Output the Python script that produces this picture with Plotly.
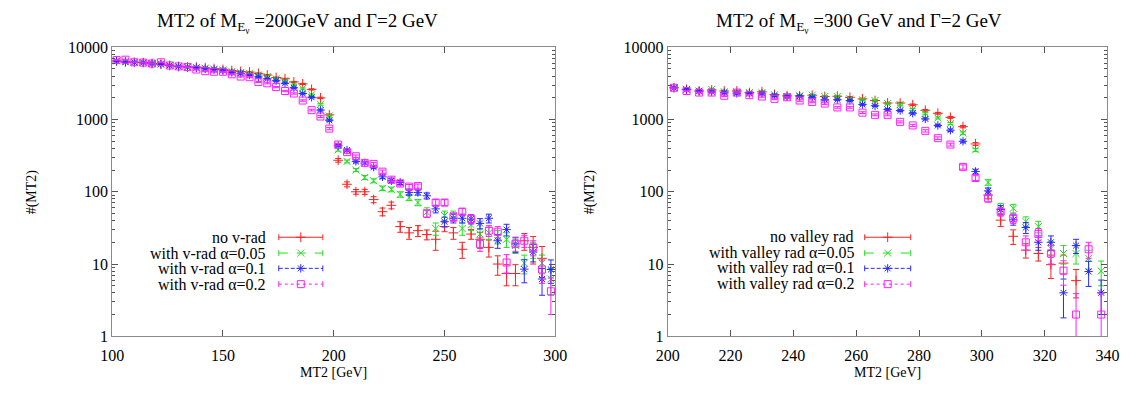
import plotly.graph_objects as go

W, H = 1141, 397

# ---------------- data: left panel (M_E = 200 GeV) ----------------
x_left = [102, 106, 110, 114, 118, 122, 126, 130, 134, 138, 142, 146, 150, 154, 158, 162, 166, 170, 174, 178,
          182, 186, 190, 194, 198, 202, 206, 210, 214, 218, 222, 226, 230, 234, 238, 242, 246, 250, 254, 258,
          262, 266, 270, 274, 278, 282, 286, 290, 294, 298]

L_red = [6460, 6330, 6200, 6130, 5950, 5830, 5600, 5430, 5320, 5320, 5210, 5060, 4920, 4760, 4620, 4530, 4350, 4130, 3810, 3660,
         3310, 3110, 2610, 1990, 1160, 273, 127, 100, 100, 78, 53, 65, 33, 27, 29, 25.6, 22, 33, 27, 16,
         26, 22, 17, 10, 7.4, 7.4, 21, 17, 12, None]
L_red_err = [80, 80, 79, 78, 77, 76, 75, 74, 73, 73, 72, 71, 70, 69, 68, 67, 66, 64, 62, 60,
             58, 56, 51, 45, 34, 16, 10, 7.5, 8, 7.5, 6.5, 7, 5.5, 5, 5, 4, 6.5, 5, 5, 4,
             4, 5.5, 4.5, 3, 2.4, 2.4, 5.5, 7, 5.5, 0]

L_green = [6460, 6330, 6200, 6130, 5950, 5830, 5600, 5430, 5320, 5210, 5140, 4980, 4870, 4620, 4480, 4350, 4130, 3930, 3660, 3440,
           3040, 2690, 2200, 1620, 1120, 380, 263, 200, 158, 142, 112, 108, 92, 83, 71, 52, 31, 47, 47, 31,
           35, 26, 27, 24, 22, 18, 10.3, 16, 10.3, 6.2]
L_green_err = [80, 80, 79, 78, 77, 76, 75, 74, 73, 72, 72, 71, 70, 68, 67, 66, 64, 63, 60, 59,
               55, 52, 47, 40, 33, 15, 12, 10, 10, 9, 8, 8, 8, 7, 7, 8, 6, 7, 7, 6,
               6, 5, 5, 5, 5, 4, 3, 4, 3, 2.5]

L_blue = [6460, 6200, 6200, 6130, 5950, 5830, 5600, 5430, 5320, 5210, 5060, 4920, 4770, 4480, 4350, 4130, 3890, 3660, 3440, 3170,
          2750, 2290, 2030, 1350, 975, 437, 378, 263, 251, 220, 161, 142, 135, 98, 98, 88, 58, 38.5, 43, 43,
          42, 36.5, 43, 21, 30, 19, 8.5, 14.7, 6.2, 8.4]
L_blue_err = [80, 79, 79, 78, 77, 76, 75, 74, 73, 72, 71, 70, 69, 67, 66, 64, 62, 60, 59, 56,
              52, 48, 45, 37, 31, 15, 14, 12, 12, 11, 9, 9, 9, 8, 8, 8.5, 7, 6, 6, 6,
              6, 6, 6, 4.5, 5.5, 4.5, 3, 4, 2.5, 3]

L_magenta = [6670, 6730, 6200, 6130, 5950, 6200, 5600, 5430, 5320, 4920, 4660, 4580, 4580, 4220, 3930, 3850, 3310, 3170, 2810, 2480,
             2290, 1830, 1350, 1100, 748, 450, 354, 310, 251, 243, 190, 147, 130, 118, 120, 50, 71, 71, 45, 53,
             42, 19, 29, 28, 10.5, 19, 21, 17, 8.4, 4.2]
L_magenta_err = [82, 82, 79, 78, 77, 79, 75, 74, 73, 70, 68, 68, 68, 65, 63, 62, 58, 56, 53, 50,
                 48, 43, 37, 33, 27, 16, 14, 13, 12, 12, 10, 9, 9, 8, 8, 6, 7, 7, 6, 6,
                 6, 4, 5, 5, 3, 4, 4, 4, 3, 2.2]

# ---------------- data: right panel (M_E = 300 GeV) ----------------
x_right = [202, 206, 210, 214, 218, 222, 226, 230, 234, 238, 242, 246, 250, 254, 258, 262, 266, 270, 274, 278,
           282, 286, 290, 294, 298, 302, 306, 310, 314, 318, 322, 326, 330, 334, 338]

R_red = [2750, 2610, 2480, 2560, 2480, 2480, 2360, 2420, 2220, 2130, 2130, 2170, 2080, 2100, 2030, 1930, 1830, 1690, 1690, 1600,
         1340, 1220, 1070, 796, 459, 90, 40.5, 24.2, 15.6, 14, 9.8, 10.3, 5.9, None, None]
R_red_err = [52, 51, 50, 51, 50, 50, 49, 49, 47, 46, 46, 47, 46, 46, 45, 44, 43, 41, 41, 40,
             37, 35, 33, 28, 21, 10, 7.5, 5.5, 3.5, 3, 3.5, 3, 2.5, 0, 0]

R_green = [2750, 2610, 2480, 2610, 2420, 2420, 2360, 2360, 2200, 2080, 2130, 2170, 2080, 2080, 1930, 1880, 1830, 1660, 1610, 1380,
           1220, 1050, 880, 649, 379, 135, 61, 59, 39, 33, 16.3, 14, 14, 12, 8]
R_green_err = [52, 51, 50, 51, 49, 49, 49, 49, 47, 46, 46, 47, 46, 46, 44, 43, 43, 41, 40, 37,
               35, 32, 30, 25, 19, 12, 8, 8, 6, 6, 4, 4, 4, 3.5, 3]

R_blue = [2750, 2610, 2480, 2420, 2360, 2300, 2300, 2300, 2130, 2080, 2100, 2030, 1880, 1880, 1830, 1610, 1550, 1380, 1330, 1220,
          1020, 828, 711, 499, 191, 103, 57, 41, 32, 20, 20, 4, 18, 7.9, 4]
R_blue_err = [52, 51, 50, 49, 49, 48, 48, 48, 46, 46, 46, 45, 43, 43, 43, 40, 39, 37, 36, 35,
              32, 29, 27, 22, 14, 10, 7.5, 6.5, 5.5, 4.5, 4.5, 2.2, 4, 3, 2]

R_magenta = [2750, 2480, 2360, 2360, 2130, 2360, 2170, 2080, 1930, 2030, 1830, 1750, 1660, 1470, 1470, 1245, 1160, 1160, 927, 828,
             697, 552, 450, 221, 155, 81, 53, 43, 20, 26, 14, 8.1, 2, 16, 2]
R_magenta_err = [52, 50, 49, 49, 46, 49, 47, 46, 44, 45, 43, 42, 41, 38, 38, 35, 34, 34, 30, 29,
                 26, 23, 21, 15, 12, 9, 7, 6.5, 4.5, 5, 4, 3, 1.9, 4, 1.9]

left_labels = ["no v-rad", "with v-rad \u03b1=0.05", "with v-rad \u03b1=0.1", "with v-rad \u03b1=0.2"]
right_labels = ["no valley rad", "with valley rad \u03b1=0.05", "with valley rad \u03b1=0.1", "with valley rad \u03b1=0.2"]

# ---------------- styles ----------------
FONT = "Liberation Serif"
colors = ["#ff2020", "#22dd22", "#2a2aff", "#ff20ff"]
symbols = ["cross-thin", "x-thin", "asterisk", "square-open"]
dashes = ["solid", "dash", "4px,2px", "dot"]

fig = go.Figure()

def add_series(xs, ys, errs, i, xa, ya):
    fig.add_trace(go.Scatter(
        x=xs, y=ys, mode="markers", xaxis=xa, yaxis=ya, showlegend=False,
        marker=dict(symbol=symbols[i], size=7, color=colors[i],
                    line=dict(width=1, color=colors[i])),
        error_y=dict(type="data", array=errs, visible=True, thickness=1, width=3, color=colors[i]),
        cliponaxis=True,
    ))

left_sets = [(L_red, L_red_err), (L_green, L_green_err), (L_blue, L_blue_err), (L_magenta, L_magenta_err)]
right_sets = [(R_red, R_red_err), (R_green, R_green_err), (R_blue, R_blue_err), (R_magenta, R_magenta_err)]
for i, (ys, es) in enumerate(left_sets):
    add_series(x_left, ys, es, i, "x", "y")
for i, (ys, es) in enumerate(right_sets):
    add_series(x_right, ys, es, i, "x2", "y2")

# plot geometry (pixels)
LX0, LX1 = 102.3, 555.0
RX0, RX1 = 669.8, 1119.0
YT, YB = 41.0, 343.0

minor_vals = [m * 10 ** k for k in range(0, 4) for m in range(2, 10)]
axis_common = dict(showline=True, linecolor="#8a8a8a", linewidth=1, mirror="allticks",
                   ticks="inside", tickcolor="#555555", tickwidth=1, showgrid=False, zeroline=False,
                   tickfont=dict(family=FONT, size=16, color="black"))
yaxis_common = dict(axis_common, type="log", range=[0, 4], ticklen=6,
                    tickvals=[1, 10, 100, 1000, 10000], ticktext=["1", "10", "100", "1000", "10000"],
                    minor=dict(ticks="inside", ticklen=3, tickcolor="#555555", tickvals=minor_vals),
                    domain=[1 - YB / H, 1 - YT / H])

fig.update_layout(
    width=W, height=H, margin=dict(l=0, r=0, t=0, b=0),
    paper_bgcolor="white", plot_bgcolor="rgba(0,0,0,0)",
    font=dict(family=FONT, color="black"),
    xaxis=dict(axis_common, range=[100, 300], ticklen=6, tickvals=[100, 150, 200, 250, 300],
               ticklabelstandoff=4, domain=[LX0 / W, LX1 / W], anchor="y"),
    yaxis=dict(yaxis_common, anchor="x"),
    xaxis2=dict(axis_common, range=[200, 340], ticklen=6, tickvals=list(range(200, 341, 20)),
                ticklabelstandoff=4, domain=[RX0 / W, RX1 / W], anchor="y2"),
    yaxis2=dict(yaxis_common, anchor="x2"),
    xaxis3=dict(domain=[0, 1], range=[0, W], visible=False, fixedrange=True, anchor="y3"),
    yaxis3=dict(domain=[0, 1], range=[H, 0], visible=False, fixedrange=True, anchor="x3"),
)

annotations = []
def text(px, py, s, size, xanchor="center", yanchor="middle", angle=0):
    annotations.append(dict(x=px / W, y=1 - py / H, xref="paper", yref="paper", text=s,
                            showarrow=False, xanchor=xanchor, yanchor=yanchor, textangle=angle,
                            font=dict(family=FONT, size=size, color="black")))

# titles
text(292, 16, "MT2 of M<sub>E<sub>\u03bd</sub></sub> =200GeV and \u0393=2 GeV", 19)
text(865, 16, "MT2 of M<sub>E<sub>\u03bd</sub></sub> =300 GeV and \u0393=2 GeV", 19)
# axis titles
text((LX0 + LX1) / 2, 381, "MT2 [GeV]", 14)
text((RX0 + RX1) / 2, 381, "MT2 [GeV]", 14)
text(20, 192, "#(MT2)", 14, angle=-90)
text(590, 192, "#(MT2)", 14, angle=-90)

# manual gnuplot-style keys
shapes = []
rows = [239.5, 256, 272, 288.5]
def key(text_right, line_x0, line_x1, labels):
    for i, lab in enumerate(labels):
        yy = rows[i]
        text(text_right, yy, lab, 16, xanchor="right")
        shapes.append(dict(type="line", xref="paper", yref="paper",
                           x0=line_x0 / W, x1=line_x1 / W, y0=1 - yy / H, y1=1 - yy / H,
                           line=dict(color=colors[i], width=1, dash=dashes[i])))
        for cx in (line_x0, line_x1):
            shapes.append(dict(type="line", xref="paper", yref="paper",
                               x0=cx / W, x1=cx / W, y0=1 - (yy - 3) / H, y1=1 - (yy + 3) / H,
                               line=dict(color=colors[i], width=1)))
        fig.add_trace(go.Scatter(x=[(line_x0 + line_x1) / 2], y=[yy], xaxis="x3", yaxis="y3",
                                 mode="markers", showlegend=False, hoverinfo="skip",
                                 marker=dict(symbol=symbols[i], size=7, color=colors[i],
                                             line=dict(width=1, color=colors[i]))))

key(262, 272.5, 317.5, left_labels)
key(862, 871, 918, right_labels)

fig.update_layout(annotations=annotations, shapes=shapes)
fig.write_html("out.html")
